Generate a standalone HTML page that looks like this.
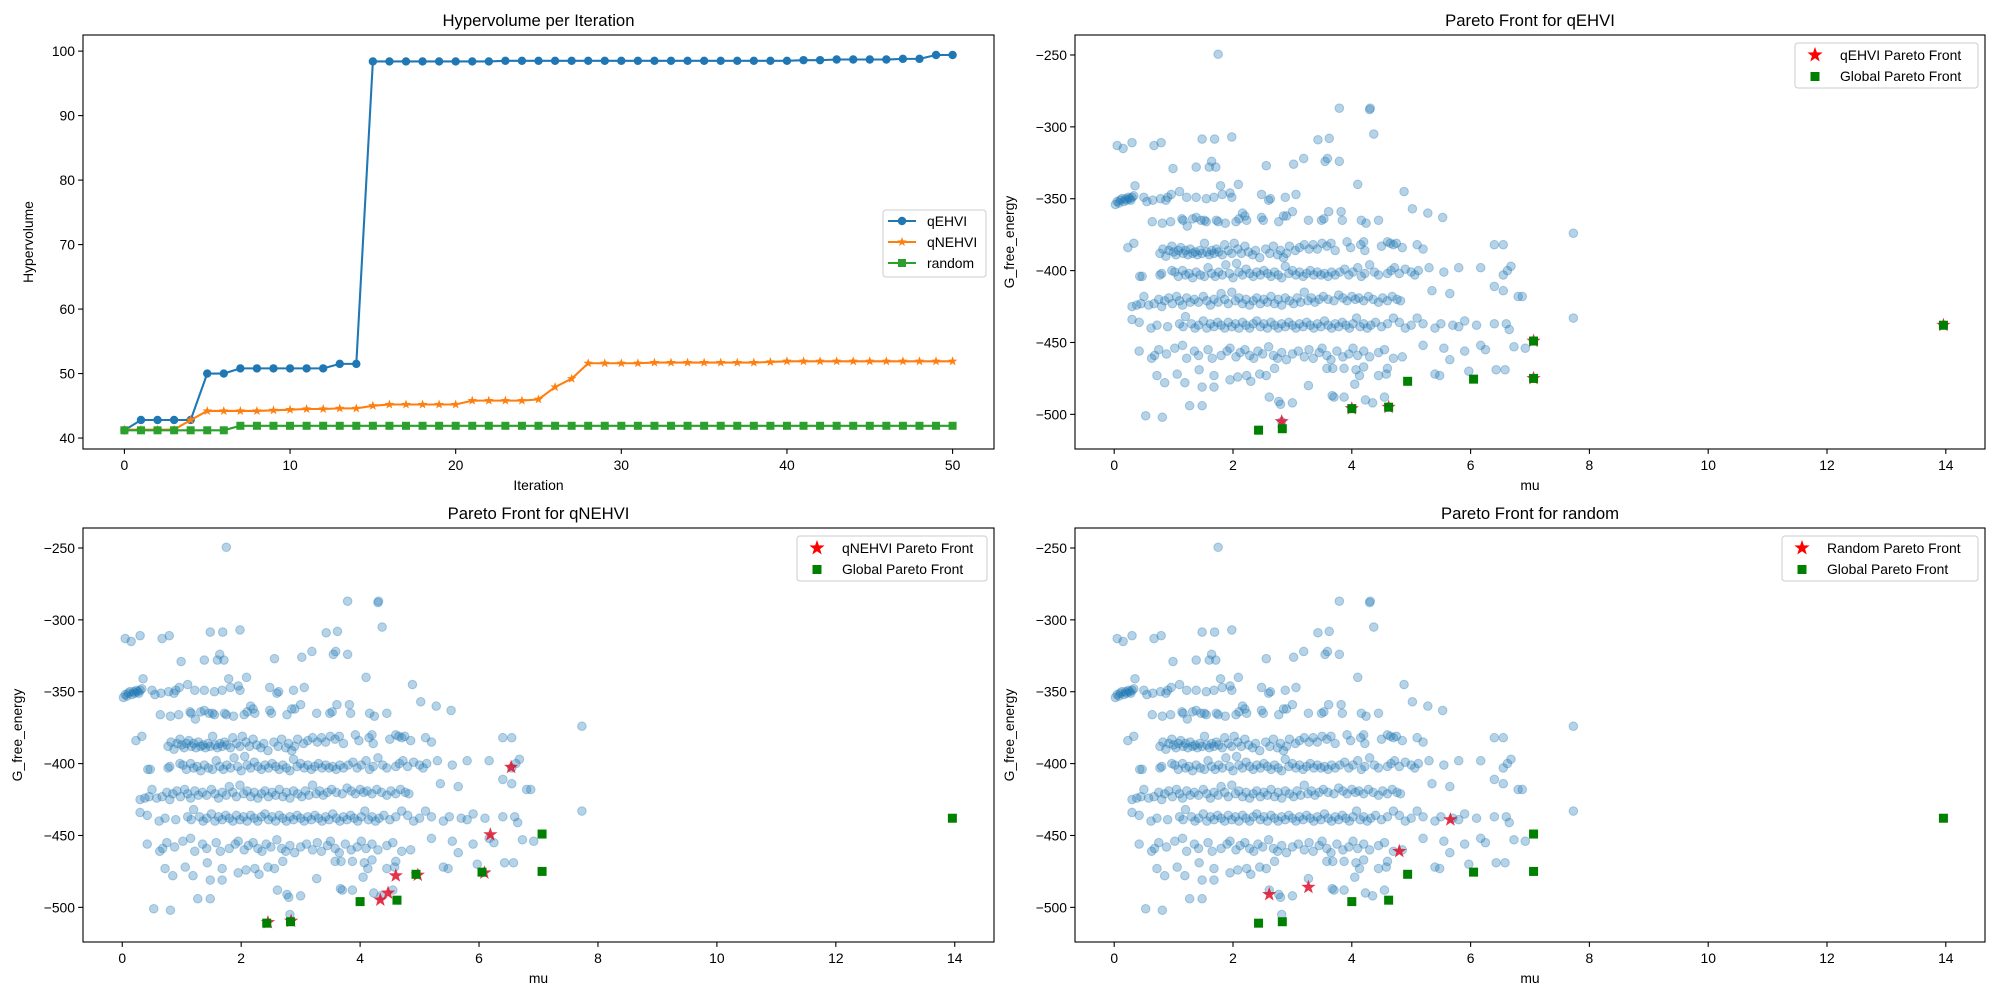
<!DOCTYPE html>
<html><head><meta charset="utf-8"><title>Hypervolume and Pareto fronts</title>
<style>
body{margin:0;background:#fff;}
svg{display:block;font-family:"Liberation Sans","DejaVu Sans",sans-serif;}
</style></head>
<body>
<svg id="fig" width="2000" height="1000" viewBox="0 0 2000 1000" xmlns="http://www.w3.org/2000/svg"></svg>
<script>
// ---------- Hypervolume data ----------
const iterations = Array.from({length:51},(_,i)=>i);
const qehviHV = [41.2,42.8,42.8,42.8,42.8,50.0,50.0,50.8,50.8,50.8,50.8,50.8,50.8,51.5,51.5,
 98.4,98.4,98.4,98.4,98.4,98.4,98.4,98.4,98.5,98.5,98.5,98.5,98.5,98.5,98.5,98.5,98.5,98.5,98.5,98.5,98.5,98.5,98.5,98.5,98.5,98.5,
 98.6,98.6,98.7,98.7,98.7,98.7,98.8,98.8,99.4,99.4];
const qnehviHV = [41.3,41.3,41.3,41.3,42.8,44.2,44.2,44.2,44.2,44.3,44.4,44.5,44.5,44.6,44.6,45.0,45.2,45.2,45.2,45.2,45.2,
 45.8,45.8,45.8,45.8,46.0,47.9,49.2,51.6,51.6,51.6,51.6,51.7,51.7,51.7,51.7,51.7,51.7,51.7,51.8,51.9,51.9,51.9,51.9,51.9,51.9,51.9,51.9,51.9,51.9,51.9];
const randomHV = [41.2,41.2,41.2,41.2,41.2,41.2,41.2,41.9,41.9,41.9,41.9,41.9,41.9,41.9,41.9,41.9,41.9,41.9,41.9,41.9,41.9,
 41.9,41.9,41.9,41.9,41.9,41.9,41.9,41.9,41.9,41.9,41.9,41.9,41.9,41.9,41.9,41.9,41.9,41.9,41.9,41.9,41.9,41.9,41.9,41.9,41.9,41.9,41.9,41.9,41.9,41.9];
const hvXTicks = [0,10,20,30,40,50];
const hvYTicks = [40,50,60,70,80,90,100];

// ---------- Scatter data (mu, G_free_energy) ----------
const allPoints = [
[1.75,-249.5],[3.79,-287],[4.3,-288],[4.31,-287],[4.37,-305],[0.05,-313],[0.15,-315],[0.3,-311],[0.67,-313],[0.79,-311],[1.48,-308.5],[1.69,-308.5],[1.98,-307],[3.43,-309],[3.62,-308],[0.99,-329],[1.38,-328],[1.6,-328],[1.71,-328],[1.64,-324],[2.56,-327],[3.02,-326],[3.19,-322],[3.55,-324],[3.79,-324],[3.59,-322],[5.02,-357],[5.28,-360],[5.53,-363],[7.73,-374],[7.73,-433],
[0.02,-354],[0.05,-352],[0.08,-353],[0.1,-351],[0.13,-350],[0.16,-352],[0.19,-350],[0.21,-351],[0.24,-349],[0.26,-350],[0.28,-351],[0.3,-349],[0.33,-348],[0.5,-349],[0.55,-352],[0.65,-351],[0.78,-350],[0.87,-351],[0.9,-349],[0.96,-347],[1.1,-345],[1.22,-349],[1.38,-349],[1.55,-350],[1.68,-349],[1.82,-347],[1.95,-346],[1.98,-349],[2.48,-347],[2.6,-351],[2.63,-350],[2.88,-349],[3.06,-347],[0.35,-341],[1.79,-341],[2.09,-340],[4.1,-340],[4.88,-345],
[0.64,-366],[0.81,-367],[0.95,-366],[1.14,-364],[1.16,-365],[1.23,-369],[1.32,-364],[1.38,-363],[1.46,-365],[1.52,-365],[1.55,-366],[1.72,-365],[1.75,-366],[1.87,-367],[2.05,-366],[2.1,-364],[2.16,-360],[2.2,-362],[2.23,-365],[2.48,-363],[2.51,-365],[2.77,-366],[2.85,-362],[2.9,-362],[3.0,-359],[3.27,-365],[3.49,-365],[3.53,-364],[3.61,-359],[3.82,-359],[3.84,-365],[4.16,-365],[4.24,-367],[4.45,-365],
[0.23,-384],[0.33,-381],[0.77,-388],[0.82,-385],[0.87,-390],[0.92,-386],[0.97,-383],[1.0,-387],[1.04,-389],[1.08,-386],[1.12,-384],[1.16,-388],[1.2,-386],[1.24,-389],[1.28,-385],[1.32,-388],[1.36,-387],[1.4,-389],[1.44,-386],[1.48,-388],[1.52,-381],[1.56,-387],[1.6,-389],[1.64,-386],[1.68,-388],[1.72,-385],[1.76,-387],[1.82,-389],[1.86,-382],[1.92,-386],[1.98,-388],[2.02,-381],[2.08,-385],[2.14,-388],[2.2,-383],[2.26,-387],[2.33,-389],[2.38,-386],[2.45,-391],[2.55,-385],[2.62,-388],[2.68,-383],[2.75,-389],[2.8,-386],[2.85,-391],[2.9,-388],[2.95,-383],[3.05,-386],[3.12,-384],[3.2,-382],[3.28,-385],[3.35,-382],[3.42,-385],[3.5,-381],[3.58,-383],[3.65,-381],[3.72,-386],[3.92,-380],[3.98,-384],[4.15,-382],[4.2,-380],[4.22,-386],[4.5,-383],[4.6,-380],[4.65,-381],[4.7,-382],[4.75,-381],[4.85,-384],[5.1,-382],[5.2,-385],[6.4,-382],[6.55,-382],
[0.43,-404],[0.47,-404],[0.77,-403],[0.8,-402],[0.97,-400],[1.02,-401],[1.08,-404],[1.15,-400],[1.2,-403],[1.26,-402],[1.32,-405],[1.38,-401],[1.45,-403],[1.52,-404],[1.58,-398],[1.64,-402],[1.7,-404],[1.76,-401],[1.82,-403],[1.88,-396],[1.94,-402],[2.0,-405],[2.06,-395],[2.1,-401],[2.16,-403],[2.22,-399],[2.28,-402],[2.34,-404],[2.4,-401],[2.46,-403],[2.52,-400],[2.58,-402],[2.64,-404],[2.7,-401],[2.76,-403],[2.82,-405],[2.88,-397],[2.94,-402],[3.0,-400],[3.06,-403],[3.12,-401],[3.18,-404],[3.24,-402],[3.3,-400],[3.36,-403],[3.42,-401],[3.48,-403],[3.54,-402],[3.6,-404],[3.66,-401],[3.72,-403],[3.8,-401],[3.88,-399],[3.95,-403],[4.02,-401],[4.1,-398],[4.16,-404],[4.22,-402],[4.3,-396],[4.38,-401],[4.45,-403],[4.6,-402],[4.66,-400],[4.72,-398],[4.8,-402],[4.9,-399],[5.0,-401],[5.06,-403],[5.12,-400],[5.3,-398],[5.55,-401],[5.8,-398],[6.17,-398],[6.55,-403],[6.62,-400],[6.68,-397],
[0.3,-425],[0.38,-424],[0.45,-423],[0.5,-418],[0.58,-424],[0.67,-423],[0.75,-420],[0.8,-425],[0.85,-421],[0.92,-419],[0.98,-423],[1.05,-418],[1.1,-421],[1.15,-424],[1.22,-419],[1.28,-422],[1.35,-420],[1.42,-422],[1.5,-418],[1.56,-421],[1.62,-424],[1.68,-420],[1.75,-422],[1.8,-416],[1.86,-420],[1.92,-423],[1.98,-415],[2.04,-421],[2.1,-419],[2.16,-423],[2.22,-420],[2.28,-424],[2.34,-421],[2.4,-419],[2.46,-423],[2.52,-420],[2.58,-422],[2.64,-418],[2.7,-423],[2.76,-420],[2.82,-424],[2.88,-419],[2.95,-421],[3.02,-423],[3.08,-419],[3.14,-422],[3.2,-415],[3.26,-421],[3.32,-419],[3.38,-422],[3.45,-420],[3.52,-418],[3.6,-420],[3.7,-421],[3.78,-417],[3.85,-419],[3.92,-421],[4.0,-418],[4.06,-420],[4.12,-419],[4.2,-421],[4.28,-418],[4.36,-420],[4.45,-422],[4.52,-419],[4.6,-421],[4.68,-418],[4.76,-420],[4.82,-421],[5.35,-414],[5.65,-416],[6.4,-411],[6.55,-414],[6.8,-418],[6.87,-418],
[0.3,-434],[0.42,-436],[0.62,-440],[0.72,-438],[0.9,-439],[1.1,-437],[1.16,-439],[1.2,-432],[1.3,-437],[1.36,-440],[1.42,-438],[1.5,-435],[1.56,-440],[1.62,-437],[1.68,-439],[1.74,-436],[1.8,-438],[1.86,-440],[1.92,-436],[1.98,-439],[2.04,-437],[2.1,-440],[2.16,-436],[2.22,-438],[2.28,-440],[2.34,-437],[2.4,-435],[2.46,-439],[2.52,-437],[2.58,-440],[2.64,-436],[2.7,-438],[2.76,-440],[2.82,-437],[2.88,-439],[2.94,-436],[3.0,-438],[3.06,-440],[3.12,-437],[3.18,-439],[3.24,-436],[3.3,-438],[3.36,-440],[3.42,-437],[3.48,-439],[3.54,-435],[3.6,-438],[3.66,-440],[3.72,-437],[3.78,-439],[3.84,-436],[3.9,-438],[3.96,-440],[4.02,-437],[4.08,-433],[4.14,-439],[4.2,-437],[4.26,-440],[4.32,-438],[4.4,-436],[4.5,-439],[4.6,-437],[4.7,-433],[4.8,-436],[4.9,-440],[5.0,-438],[5.1,-433],[5.2,-437],[5.4,-440],[5.5,-437],[5.7,-438],[5.8,-439],[5.9,-435],[6.1,-438],[6.4,-437],[6.6,-437],[6.65,-441],
[0.42,-456],[0.63,-461],[0.68,-459],[0.75,-455],[0.88,-458],[1.02,-454],[1.15,-452],[1.22,-461],[1.35,-456],[1.42,-459],[1.58,-455],[1.65,-461],[1.8,-459],[1.9,-456],[1.95,-454],[2.05,-460],[2.12,-457],[2.2,-455],[2.28,-459],[2.35,-461],[2.42,-456],[2.5,-458],[2.6,-453],[2.68,-459],[2.75,-461],[2.82,-457],[2.9,-462],[3.0,-458],[3.1,-456],[3.2,-460],[3.28,-455],[3.35,-461],[3.45,-457],[3.5,-454],[3.58,-459],[3.65,-462],[3.75,-456],[3.85,-460],[3.95,-458],[4.02,-454],[4.1,-459],[4.2,-456],[4.3,-460],[4.45,-457],[4.55,-455],[4.7,-461],[4.85,-460],[5.2,-452],[5.55,-454],[5.65,-462],[5.9,-456],[5.97,-470],[6.17,-452],[6.25,-455],[6.73,-453],[6.92,-454],
[0.72,-473],[1.06,-472],[1.43,-469],[1.68,-473],[2.08,-474],[2.23,-473],[2.45,-472],[2.56,-473],[2.7,-468],[3.58,-468],[3.68,-468],[3.87,-468],[4.07,-469],[4.13,-473],[4.2,-467],[4.45,-473],[4.58,-472],[4.6,-468],[5.4,-472],[5.48,-473],[6.43,-469],[6.58,-469],[1.19,-478],[1.48,-481],[1.68,-481],[2.61,-488],[2.77,-491],[3.0,-492],[3.27,-480],[3.67,-487],[3.7,-488],[3.87,-488],[4.05,-479],[4.23,-490],[4.35,-492],[4.55,-488],[2.8,-493],[1.27,-494],[1.48,-494],[0.53,-501],[0.81,-502],[2.82,-505],[0.85,-478],[1.95,-476],[2.3,-477]
];
const globalFront = [[2.43,-511],[2.83,-510],[4.0,-496],[4.62,-495],[4.94,-477],[6.05,-475.5],[7.06,-449],[7.06,-475],[13.96,-438]];
const qehviFront = [[2.82,-505],[4.0,-496],[4.62,-495],[7.06,-449],[7.06,-475],[13.96,-438]];
const qnehviFront = [[2.45,-510.5],[2.84,-509.5],[4.34,-494.8],[4.47,-490],[4.6,-478],[4.97,-477.5],[6.09,-476],[6.19,-449.4],[6.54,-402.5]];
const randomFront = [[2.61,-491],[3.27,-486],[4.8,-461],[5.66,-439]];
const muTicks = [0,2,4,6,8,10,12,14];
const gTicks = [-250,-300,-350,-400,-450,-500];

const NS="http://www.w3.org/2000/svg";
const fig=document.getElementById('fig');
function el(tag,attrs,parent){const e=document.createElementNS(NS,tag);for(const k in attrs)e.setAttribute(k,attrs[k]);(parent||fig).appendChild(e);return e;}
function txt(str,attrs,parent){const t=el('text',attrs,parent);t.textContent=str;return t;}
function fmt(v){return v<0?'\u2212'+Math.abs(v):String(v);}
function starPts(cx,cy,r){let p=[];for(let i=0;i<10;i++){const rr=i%2?r*0.4:r;const a=-Math.PI/2+i*Math.PI/5;p.push((cx+rr*Math.cos(a)).toFixed(2)+','+(cy+rr*Math.sin(a)).toFixed(2));}return p.join(' ');}

function makeAxes(name,box,xlim,ylim,xticks,yticks,title,xlabel,ylabel,ylabelX){
  const g=el('g',{});
  
  
  const sx=v=>box.l+(v-xlim[0])/(xlim[1]-xlim[0])*(box.r-box.l);
  const sy=v=>box.b-(v-ylim[0])/(ylim[1]-ylim[0])*(box.b-box.t);
  const plot=el('g',{},g);
  
  
  const xt=el('g',{},g);
  
  
  xticks.forEach(v=>{const x=sx(v);el('line',{x1:x,x2:x,y1:box.b,y2:box.b+4.9,stroke:'#000','stroke-width':1.1},xt);
    txt(fmt(v),{x:x,y:box.b+21,'font-size':13.9,'text-anchor':'middle',fill:'#000'},xt);});
  const yt=el('g',{},g);
  
  
  yticks.forEach(v=>{const y=sy(v);el('line',{x1:box.l-4.9,x2:box.l,y1:y,y2:y,stroke:'#000','stroke-width':1.1},yt);
    txt(fmt(v),{x:box.l-8,y:y+5,'font-size':13.9,'text-anchor':'end',fill:'#000'},yt);});
  const t=txt(title,{x:(box.l+box.r)/2,y:box.t-9,'font-size':16.7,'text-anchor':'middle',fill:'#000'},g);
  
  
  const xl=txt(xlabel,{x:(box.l+box.r)/2,y:box.b+41,'font-size':13.9,'text-anchor':'middle',fill:'#000'},g);
  
  
  const yl=txt(ylabel,{x:ylabelX,y:(box.t+box.b)/2,'font-size':13.9,'text-anchor':'middle',fill:'#000',transform:`rotate(-90 ${ylabelX} ${(box.t+box.b)/2})`},g);
  
  
  return {g,plot,sx,sy,box};
}
function frame(ax){const f=el('rect',{x:ax.box.l,y:ax.box.t,width:ax.box.r-ax.box.l,height:ax.box.b-ax.box.t,fill:'none',stroke:'#000','stroke-width':1.1},ax.g);
  
  }

// ---------- Panel 1: Hypervolume ----------
const ax1=makeAxes('hypervolume-chart',{l:83,r:994,t:35,b:449},[-2.5,52.5],[38.3,102.5],hvXTicks,hvYTicks,'Hypervolume per Iteration','Iteration','Hypervolume',33);
const hvSeries=[{name:'qEHVI',vals:qehviHV,color:'#1f77b4',marker:'o'},{name:'qNEHVI',vals:qnehviHV,color:'#ff7f0e',marker:'*'},{name:'random',vals:randomHV,color:'#2ca02c',marker:'s'}];
function drawMarker(parent,m,x,y,color){
  if(m==='o') return el('circle',{cx:x,cy:y,r:4.2,fill:color},parent);
  if(m==='s') return el('rect',{x:x-4,y:y-4,width:8,height:8,fill:color},parent);
  return el('polygon',{points:starPts(x,y,5),fill:color},parent);
}
hvSeries.forEach(s=>{
  const sg=el('g',{},ax1.plot);
  
  
  const d=s.vals.map((v,i)=>(i?'L':'M')+ax1.sx(iterations[i]).toFixed(2)+','+ax1.sy(v).toFixed(2)).join(' ');
  const p=el('path',{d:d,fill:'none',stroke:s.color,'stroke-width':2.08},sg);
  
  
  s.vals.forEach((v,i)=>{const m=drawMarker(sg,s.marker,ax1.sx(iterations[i]),ax1.sy(v),s.color);
    
    });
});
frame(ax1);
(function(){
  const lg=el('g',{},ax1.g);
  
  
  el('rect',{x:883,y:210,width:103,height:67,rx:3,fill:'#fff','fill-opacity':0.8,stroke:'#ccc'},lg);
  hvSeries.forEach((s,i)=>{const y=221+i*21;
    const e=el('g',{},lg);
    
    
    el('line',{x1:888,x2:916,y1:y,y2:y,stroke:s.color,'stroke-width':2.08},e);
    drawMarker(e,s.marker,902,y,s.color);
    txt(s.name,{x:927,y:y+5,'font-size':13.9,fill:'#000'},e);});
})();

// ---------- Pareto panels ----------
function paretoPanel(name,box,title,front,frontLabel,ylx,legendW){
  const ax=makeAxes(name,box,[-0.66,14.66],[-524.1,-236.1],muTicks,gTicks,title,'mu','G_free_energy',ylx);
  const sc=el('g',{},ax.plot);
  
  
  allPoints.forEach(p=>{const c=el('circle',{cx:ax.sx(p[0]).toFixed(2),cy:ax.sy(p[1]).toFixed(2),r:4.3,fill:'#1f77b4','fill-opacity':0.33,stroke:'#1f77b4','stroke-opacity':0.33,'stroke-width':1},sc);
    
    });
  const fg=el('g',{},ax.plot);
  
  
  front.forEach(p=>{const s=el('polygon',{points:starPts(ax.sx(p[0]),ax.sy(p[1]),7.5),fill:'#e0102a','fill-opacity':0.85},fg);
    
    });
  const gg=el('g',{},ax.plot);
  
  
  globalFront.forEach(p=>{const r=el('rect',{x:ax.sx(p[0])-4.5,y:ax.sy(p[1])-4.5,width:9,height:9,fill:'#008000'},gg);
    
    });
  frame(ax);
  const lg=el('g',{},ax.g);
  
  
  const lx=box.r-7-legendW, ly=box.t+8;
  el('rect',{x:lx,y:ly,width:legendW,height:45,rx:3,fill:'#fff','fill-opacity':0.8,stroke:'#ccc'},lg);
  const e1=el('g',{},lg);
  
  
  el('polygon',{points:starPts(lx+20,ly+12,8),fill:'#ff0000'},e1);
  txt(frontLabel,{x:lx+45,y:ly+17,'font-size':13.9,fill:'#000'},e1);
  const e2=el('g',{},lg);
  
  
  el('rect',{x:lx+15.5,y:ly+29,width:9,height:9,fill:'#008000'},e2);
  txt('Global Pareto Front',{x:lx+45,y:ly+38,'font-size':13.9,fill:'#000'},e2);
}
paretoPanel('pareto-qehvi-chart',{l:1075,r:1985,t:35,b:449},'Pareto Front for qEHVI',qehviFront,'qEHVI Pareto Front',1014,183);
paretoPanel('pareto-qnehvi-chart',{l:83,r:994,t:528,b:942},'Pareto Front for qNEHVI',qnehviFront,'qNEHVI Pareto Front',22,190);
paretoPanel('pareto-random-chart',{l:1075,r:1985,t:528,b:942},'Pareto Front for random',randomFront,'Random Pareto Front',1014,196);
</script>
</body></html>
